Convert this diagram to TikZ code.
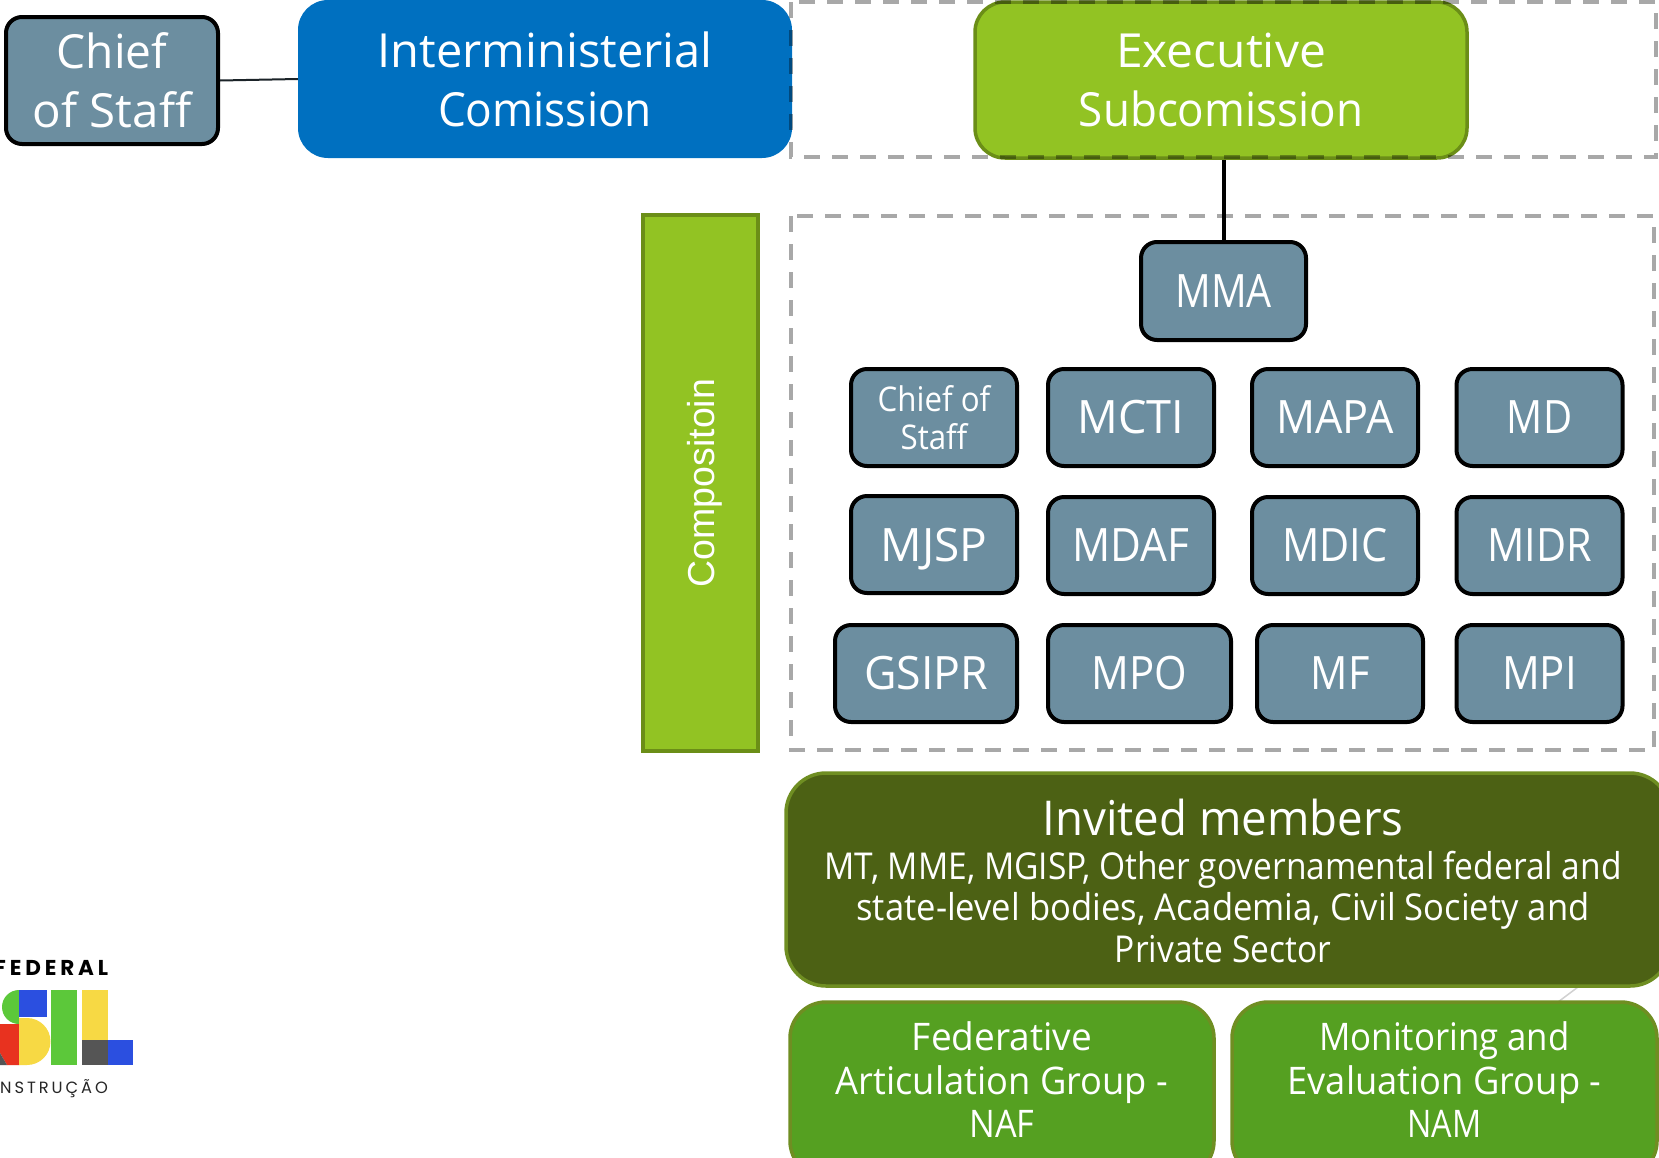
\documentclass[tikz,border=0pt]{standalone}
\usepackage{graphicx}
\usepackage{fontspec}
\setmainfont{Open Sans}
\newfontfamily\arialf{Liberation Sans}
\newfontfamily\logof[LetterSpace=18]{Poppins}
\definecolor{steelb}{HTML}{6C8EA0}
\definecolor{blueb}{HTML}{0070C0}
\definecolor{limeb}{HTML}{92C323}
\definecolor{limee}{HTML}{6B8E17}
\definecolor{darkb}{HTML}{4C6114}
\definecolor{midb}{HTML}{55A021}
\definecolor{mide}{HTML}{6F8E22}
\definecolor{logogreen}{HTML}{5CC83A}
\definecolor{logoblue}{HTML}{2B4FE0}
\definecolor{logored}{HTML}{E8321F}
\definecolor{logoyellow}{HTML}{F7D944}
\definecolor{logogray}{HTML}{555555}
\newcommand{\fs}[2]{\fontsize{#1}{#2}\selectfont}
\newcommand{\hs}[2]{\scalebox{#1}[1]{#2}}
\tikzset{
 x=1pt,y=-1pt,
 boxbase/.style={rectangle,rounded corners=#1,inner sep=0pt,align=center,text=white,anchor=center},
 minbox/.style={boxbase=16pt,fill=steelb,draw=black,line width=4pt,font=\fs{46}{52}},
 dashbox/.style={draw=black,draw opacity=0.34,line width=3.2pt,dash pattern=on 16pt off 12pt},
 execbox/.style={boxbase=30pt,fill=limeb,draw=limee,line width=3.5pt,font=\fs{47}{59}},
 groupbox/.style={boxbase=36pt,fill=midb,draw=mide,line width=3.5pt},
 grouptext/.style={text=white,align=center,inner sep=0pt,font=\fs{38}{43.5}},
}
\begin{document}
\begin{tikzpicture}
\clip (0,0) rectangle (1659,1157);
\fill[white] (0,0) rectangle (1659,1157);
% top row
\node[minbox,font=\fs{47}{59},minimum width=212pt,minimum height=127pt] (chief) at (112,80.5) {\hs{.98}{Chief}\\\hs{1.01}{of Staff}};
\node[boxbase=30pt,fill=blueb,minimum width=494pt,minimum height=158pt,font=\fs{47}{59}] (inter) at (545,79) {Interministerial\\\hs{.94}{Comission}};
\node[execbox,minimum width=492pt,minimum height=156pt,yshift=-1pt] (exec) at (1221,79) {\hs{1.02}{Executive}\\\hs{.935}{Subcomission}};
\draw[draw=black!75!steelb,line width=2pt] (chief.east) -- (inter.west);
% composition
\node[rectangle,fill=limeb,draw=limee,line width=3.5pt,minimum width=115pt,minimum height=536pt,inner sep=0pt] (comp) at (700.5,483) {};
\node[rotate=90,text=white,font=\arialf\fs{37.5}{42}] (comptext) at (705,483) {Compositoin};
% ministries
\node[minbox,minimum width=165pt,minimum height=98pt] (mma) at (1223.5,291) {\hs{.86}{MMA}};
\draw[black,line width=4pt] (exec.south -| mma.north) -- (mma.north);
\node[minbox,font=\fs{34}{38},minimum width=166pt,minimum height=97pt] (cos) at (934,417.5) {\hs{.92}{Chief of}\\\hs{.92}{Staff}};
\node[minbox,minimum width=166pt,minimum height=97pt] (mcti) at (1131,417.5) {\hs{.98}{MCTI}};
\node[minbox,minimum width=166pt,minimum height=97pt] (mapa) at (1335,417.5) {\hs{.94}{MAPA}};
\node[minbox,minimum width=166pt,minimum height=97pt] (md) at (1539.5,417.5) {\hs{.87}{MD}};
\node[minbox,text depth=0pt,minimum width=166pt,minimum height=97pt] (mjsp) at (934,544.5) {\hs{1.0}{MJSP}};
\node[minbox,minimum width=166pt,minimum height=97pt] (mdaf) at (1131,545.5) {\hs{.92}{MDAF}};
\node[minbox,minimum width=166pt,minimum height=97pt] (mdic) at (1335,545.5) {\hs{.9}{MDIC}};
\node[minbox,minimum width=166pt,minimum height=97pt] (midr) at (1539.5,545.5) {\hs{.9}{MIDR}};
\node[minbox,minimum width=182pt,minimum height=97pt] (gsipr) at (926,673.5) {\hs{.97}{GSIPR}};
\node[minbox,minimum width=183pt,minimum height=97pt] (mpo) at (1139.5,673.5) {\hs{.91}{MPO}};
\node[minbox,minimum width=166pt,minimum height=97pt] (mf) at (1340,673.5) {\hs{.9}{MF}};
\node[minbox,minimum width=166pt,minimum height=97pt] (mpi) at (1539.5,673.5) {\hs{.91}{MPI}};
% lower boxes
\coordinate (ga) at (1578,987);
\coordinate (gb) at (1558,1002);
\draw[black!18,line width=1.5pt] (ga) -- (gb);
\node[boxbase=40pt,fill=darkb,draw=mide,line width=3.5pt,minimum width=884pt,minimum height=213pt] (inv) at (1228,879.5) {};
\node[text=white,align=center,inner sep=0pt,font=\fs{37}{41.5}] (invtext) at (1223,881) {\hs{.95}{\fs{48}{52}Invited members}\\[2pt]\hs{.906}{MT, MME, MGISP, Other governamental federal and}\\\hs{.935}{state-level bodies, Academia, Civil Society and}\\\hs{.906}{Private Sector}};
\node[groupbox,minimum width=424pt,minimum height=175pt] (naf) at (1002,1089.5) {};
\node[grouptext] (naftext) at (1002,1080) {\hs{.975}{Federative}\\\hs{.955}{Articulation Group -}\\\hs{.9}{NAF}};
\node[groupbox,minimum width=425pt,minimum height=175pt] (nam) at (1444.5,1089.5) {};
\node[grouptext] (namtext) at (1444.5,1080) {\hs{.915}{Monitoring and}\\\hs{.955}{Evaluation Group -}\\\hs{.85}{NAM}};
% dashed frames over the boxes
\draw[dashbox] (791,2) rectangle (1656,157);
\draw[dashbox] (791,216) rectangle (1654,750);
% logo
\node[font=\logof\bfseries\fs{21.5}{26},anchor=west,text=black,inner sep=0pt] (logo1) at (-6,968) {FEDERAL};
\node[font=\logof\fs{16.3}{20},anchor=west,text=black!85,inner sep=0pt] (logo2) at (0,1089) {NSTRUÇÃO};
\fill[logogreen] (19,990) arc (270:90:17) -- cycle;
\fill[logoblue] (19,990) rectangle (47,1017);
\fill[logored] (0,1024) -- (19,1024) -- (19,1065) -- (7,1065) -- (0,1053) -- cycle;
\fill[logogray] (0,1053) -- (7,1065) -- (0,1065) -- cycle;
\fill[logoyellow] (19,1018) -- (27,1018) arc (-90:90:23.5) -- (19,1065) -- cycle;
\fill[logogreen] (51,990) rectangle (77,1065);
\fill[logoyellow] (82,990) rectangle (108,1040);
\fill[logogray] (82,1040) rectangle (108,1065);
\fill[logoblue] (108,1040) rectangle (133,1065);
\end{tikzpicture}
\end{document}
